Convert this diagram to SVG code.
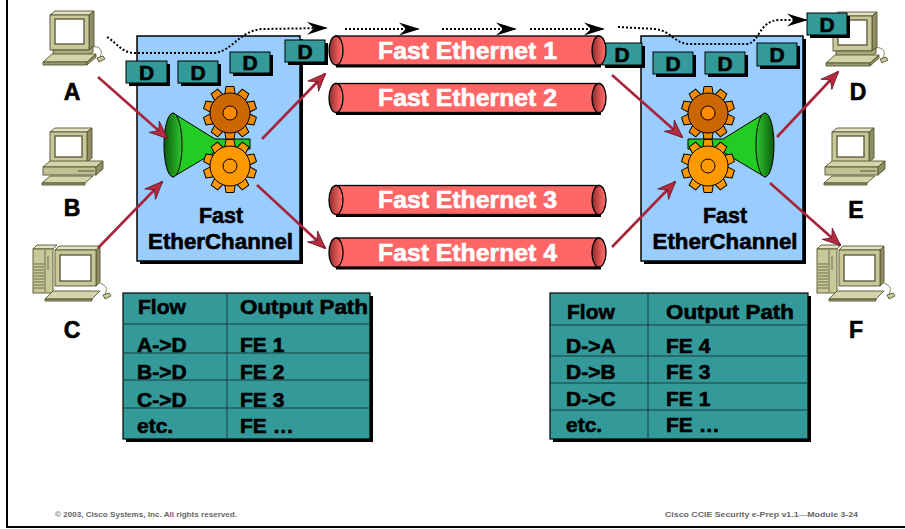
<svg xmlns="http://www.w3.org/2000/svg" xmlns:xlink="http://www.w3.org/1999/xlink" width="905" height="529" viewBox="0 0 905 529">
  <style>
    .lbl { font-family: "Liberation Sans", Arial, sans-serif; font-weight: bold; fill: #000; stroke: #000; stroke-width: 0.6; }
    .host { font-size: 23px; text-anchor: middle; }
    .fe { font-size: 24px; text-anchor: middle; fill: #fff; stroke: #fff; stroke-width: 0.6; }
    .fec { font-size: 21.5px; text-anchor: middle; }
    .dtxt { font-size: 21px; text-anchor: middle; }
    .tbl { font-size: 21px; }
    .foot { font-family: "Liberation Sans", Arial, sans-serif; font-weight: bold; font-size: 8px; fill: #666; }
    .box { fill: #99CCFF; stroke: #000; stroke-width: 1.5; }
    .shadow { fill: #000; stroke: none; }
    .frame { fill: #339999; stroke: #000; stroke-width: 1.2; }
    .pkt { fill: #339999; stroke: #000; stroke-width: 1; }
    .tube { fill: #FF6666; stroke: #000; stroke-width: 1.3; }
    .cap { fill: url(#capGrad); stroke: #000; stroke-width: 1.3; }
    .rowline { stroke: #1a3d3d; stroke-width: 1; }
    .red { fill: none; stroke: #A8243A; stroke-width: 2.6; marker-end: url(#redHead); }
    .dots { fill: none; stroke: #000; stroke-width: 2; stroke-dasharray: 2 2; marker-end: url(#dotHead); }
    .pcline { stroke: #555533; stroke-width: 0.9; }
  </style>
  <defs>
    <linearGradient id="capGrad" x1="0" y1="0" x2="1" y2="0">
      <stop offset="0" stop-color="#8E2A2A"/>
      <stop offset="0.6" stop-color="#E05555"/>
      <stop offset="1" stop-color="#FF7070"/>
    </linearGradient>
    <linearGradient id="mouthGrad" x1="0" y1="0" x2="1" y2="0">
      <stop offset="0" stop-color="#0B5A0B"/>
      <stop offset="1" stop-color="#30C830"/>
    </linearGradient>
    <marker id="redHead" markerUnits="userSpaceOnUse" markerWidth="22" markerHeight="18" viewBox="-19 -9 22 18" refX="0" refY="0" orient="auto">
      <path d="M1,0 L-17,-7.5 L-11,0 L-17,7.5 Z" fill="#B52B40" stroke="#5A0F1A" stroke-width="0.7"/>
    </marker>
    <marker id="dotHead" markerUnits="userSpaceOnUse" markerWidth="24" markerHeight="16" viewBox="-21 -8 24 16" refX="0" refY="0" orient="auto">
      <path d="M2,0 L-19,-6.5 L-12,0 L-19,6.5 Z" fill="#000"/>
    </marker>
    <path id="tooth" d="M-4,-26.5 L4,-26.5 L5.5,-17 L-5.5,-17 Z" stroke="#000" stroke-width="1"/>
    <g id="gearDark">
      <g fill="#F08A00">
        <use href="#tooth"/><use href="#tooth" transform="rotate(36)"/><use href="#tooth" transform="rotate(72)"/>
        <use href="#tooth" transform="rotate(108)"/><use href="#tooth" transform="rotate(144)"/><use href="#tooth" transform="rotate(180)"/>
        <use href="#tooth" transform="rotate(216)"/><use href="#tooth" transform="rotate(252)"/><use href="#tooth" transform="rotate(288)"/>
        <use href="#tooth" transform="rotate(324)"/>
      </g>
      <circle r="20" fill="#CC6600" stroke="#000" stroke-width="1"/>
      <circle r="7" fill="#FF8C00" stroke="#000" stroke-width="1"/>
    </g>
    <g id="gearLight">
      <g fill="#FF9900">
        <use href="#tooth"/><use href="#tooth" transform="rotate(36)"/><use href="#tooth" transform="rotate(72)"/>
        <use href="#tooth" transform="rotate(108)"/><use href="#tooth" transform="rotate(144)"/><use href="#tooth" transform="rotate(180)"/>
        <use href="#tooth" transform="rotate(216)"/><use href="#tooth" transform="rotate(252)"/><use href="#tooth" transform="rotate(288)"/>
        <use href="#tooth" transform="rotate(324)"/>
      </g>
      <circle r="20" fill="#FF9900" stroke="#000" stroke-width="1"/>
      <circle r="7" fill="#FF9900" stroke="#000" stroke-width="1"/>
    </g>
    <!-- funnel with two gears, drawn for the left switch -->
    <g id="engine">
      <use href="#gearDark" transform="translate(230,113)"/>
      <polygon points="173,113 215,139 250,139 250,149 215,152 173,177" fill="#22CC22" stroke="#000" stroke-width="1"/>
      <ellipse cx="173" cy="145" rx="9" ry="32" fill="url(#mouthGrad)" stroke="#000" stroke-width="1"/>
      <use href="#gearLight" transform="translate(230,166)"/>
    </g>
    <!-- monitor with keyboard and mouse -->
    <g id="pcMon">
      <path d="M90,47 C101,45 103,51 100,57" fill="none" stroke="#888866" stroke-width="1"/>
      <polygon class="pcline" points="50,15 55,11 94,11 89,15" fill="#E2E2C4"/>
      <polygon class="pcline" points="89,15 94,11 94,46 89,50" fill="#8E8E62"/>
      <rect class="pcline" x="50" y="15" width="39" height="35" fill="#C8C89A"/>
      <rect x="55" y="19" width="29" height="25" fill="#fff" stroke="#555533" stroke-width="1.3"/>
      <polygon class="pcline" points="53,50 89,50 93,47 93,52 89,55 53,55" fill="#A8A87C"/>
      <polygon class="pcline" points="43,62 87,62 96,54 52,54" fill="#D4D4AA"/>
      <polygon class="pcline" points="43,62 87,62 87,65 43,65" fill="#9A9A70"/>
      <polygon class="pcline" points="87,62 96,54 96,57 87,65" fill="#8E8E62"/>
      <path class="pcline" d="M97,58 L103,56 L105,59 L99,62 Z" fill="#C8C89A"/>
    </g>
    <!-- monitor standing on a desktop case -->
    <g id="pcDesk">
      <polygon class="pcline" points="50,132 55,128 92,128 87,132" fill="#E2E2C4"/>
      <polygon class="pcline" points="87,132 92,128 92,158 87,162" fill="#8E8E62"/>
      <rect class="pcline" x="50" y="132" width="37" height="30" fill="#C8C89A"/>
      <rect x="55" y="136" width="27" height="21" fill="#fff" stroke="#555533" stroke-width="1.3"/>
      <polygon class="pcline" points="43,167 96,167 103,161 50,161" fill="#D4D4AA"/>
      <rect class="pcline" x="43" y="167" width="53" height="8" fill="#C0C094"/>
      <polygon class="pcline" points="96,167 103,161 103,169 96,175" fill="#8E8E62"/>
      <line x1="78" y1="171" x2="94" y2="171" stroke="#555533" stroke-width="1"/>
      <polygon class="pcline" points="42,183 85,183 93,176 50,176" fill="#D4D4AA"/>
      <polygon class="pcline" points="42,183 85,183 85,185 42,185" fill="#9A9A70"/>
    </g>
    <!-- tower with monitor, keyboard and mouse -->
    <g id="pcTower">
      <path d="M96,283 C106,283 108,289 105,294" fill="none" stroke="#888866" stroke-width="1"/>
      <polygon class="pcline" points="33,249 37,245 57,245 53,249" fill="#E2E2C4"/>
      <rect class="pcline" x="33" y="249" width="20" height="44" fill="#C8C89A"/>
      <line x1="45" y1="250" x2="45" y2="292" stroke="#555533" stroke-width="0.8"/>
      <line x1="48" y1="256" x2="48" y2="270" stroke="#555533" stroke-width="0.8"/>
      <path d="M34,264 H44 M34,267 H44 M34,270 H44 M34,273 H44 M34,276 H44 M34,279 H44 M34,282 H44 M34,285 H44 M34,288 H44" stroke="#6E6E4A" stroke-width="1"/>
      <polygon class="pcline" points="55,250 59,246 100,246 96,250" fill="#E2E2C4"/>
      <polygon class="pcline" points="96,250 100,246 100,282 96,286" fill="#8E8E62"/>
      <rect class="pcline" x="55" y="250" width="41" height="36" fill="#C8C89A"/>
      <rect x="60" y="255" width="31" height="26" fill="#fff" stroke="#555533" stroke-width="1.3"/>
      <polygon class="pcline" points="45,299 92,299 100,291 53,291" fill="#D4D4AA"/>
      <polygon class="pcline" points="45,299 92,299 92,301 45,301" fill="#9A9A70"/>
      <path class="pcline" d="M103,295 L109,293 L111,296 L105,299 Z" fill="#C8C89A"/>
    </g>
  </defs>

  <!-- page frame -->
  <line x1="7" y1="0" x2="7" y2="528" stroke="#000" stroke-width="2"/>
  <line x1="6" y1="527" x2="905" y2="527" stroke="#000" stroke-width="2"/>

  <!-- hosts -->
  <g id="host-a"><use href="#pcMon"/><text class="lbl host" x="72" y="100">A</text></g>
  <g id="host-b"><use href="#pcDesk"/><text class="lbl host" x="72" y="216">B</text></g>
  <g id="host-c"><use href="#pcTower"/><text class="lbl host" x="72" y="338">C</text></g>
  <g id="host-d"><use href="#pcMon" transform="translate(783,1)"/><text class="lbl host" x="858" y="100">D</text></g>
  <g id="host-e"><use href="#pcDesk" transform="translate(782,0)"/><text class="lbl host" x="856" y="218">E</text></g>
  <g id="host-f"><use href="#pcTower" transform="translate(784,0)"/><text class="lbl host" x="856" y="338">F</text></g>

  <!-- left Fast EtherChannel switch -->
  <g id="fec-left">
    <rect class="shadow" x="140" y="39" width="163" height="225"/>
    <rect class="box" x="137" y="36" width="163" height="225"/>
    <use href="#engine"/>
    <text class="lbl fec" x="221" y="223">Fast</text>
    <text class="lbl fec" x="220.5" y="249" textLength="145" lengthAdjust="spacingAndGlyphs">EtherChannel</text>
  </g>

  <!-- right Fast EtherChannel switch -->
  <g id="fec-right">
    <rect class="shadow" x="644" y="39" width="162" height="225"/>
    <rect class="box" x="641" y="36" width="162" height="225"/>
    <use href="#engine" transform="matrix(-1,0,0,1,938,0)"/>
    <text class="lbl fec" x="725" y="223">Fast</text>
    <text class="lbl fec" x="725" y="249" textLength="145" lengthAdjust="spacingAndGlyphs">EtherChannel</text>
  </g>

  <!-- frames travelling from A to D -->
  <g id="frames">
    <g id="frame-l1"><rect class="shadow" x="129" y="64" width="41" height="22"/><rect class="pkt" x="126" y="61" width="41" height="22"/><text class="lbl dtxt" x="146.5" y="80">D</text></g>
    <g id="frame-l2"><rect class="shadow" x="181" y="64" width="40" height="22"/><rect class="pkt" x="178" y="61" width="40" height="22"/><text class="lbl dtxt" x="198" y="80">D</text></g>
    <g id="frame-l3"><rect class="shadow" x="233" y="55" width="40" height="21"/><rect class="pkt" x="230" y="52" width="40" height="21"/><text class="lbl dtxt" x="250" y="70">D</text></g>
    <g id="frame-l4"><rect class="shadow" x="288" y="43" width="40" height="22"/><rect class="pkt" x="285" y="40" width="40" height="22"/><text class="lbl dtxt" x="305" y="59">D</text></g>
    <g id="frame-r1"><rect class="shadow" x="605" y="46" width="40" height="22"/><rect class="pkt" x="602" y="43" width="40" height="22"/><text class="lbl dtxt" x="622" y="62">D</text></g>
    <g id="frame-r2"><rect class="shadow" x="656" y="55" width="40" height="22"/><rect class="pkt" x="653" y="52" width="40" height="22"/><text class="lbl dtxt" x="673" y="71">D</text></g>
    <g id="frame-r3"><rect class="shadow" x="708" y="55" width="40" height="22"/><rect class="pkt" x="705" y="52" width="40" height="22"/><text class="lbl dtxt" x="725" y="71">D</text></g>
    <g id="frame-r4"><rect class="shadow" x="760" y="46" width="40" height="23"/><rect class="pkt" x="757" y="43" width="40" height="23"/><text class="lbl dtxt" x="777" y="62">D</text></g>
    <g id="frame-top"><rect class="shadow" x="810" y="16" width="40" height="22"/><rect class="pkt" x="807" y="13" width="40" height="22"/><text class="lbl dtxt" x="827" y="32">D</text></g>
  </g>

  <!-- Fast Ethernet links -->
  <g id="fe1">
    <rect class="shadow" x="336" y="38.5" width="265" height="29"/>
    <rect class="tube" x="336" y="36" width="263" height="29"/>
    <ellipse class="cap" cx="599" cy="50.5" rx="7" ry="14.5"/>
    <ellipse class="cap" cx="336" cy="50.5" rx="7" ry="14.5"/>
    <text class="lbl fe" x="467.5" y="58.5" textLength="179" lengthAdjust="spacingAndGlyphs">Fast Ethernet 1</text>
  </g>
  <g id="fe2">
    <rect class="shadow" x="336" y="86" width="265" height="29"/>
    <rect class="tube" x="336" y="83.5" width="263" height="29"/>
    <ellipse class="cap" cx="599" cy="98" rx="7" ry="14.5"/>
    <ellipse class="cap" cx="336" cy="98" rx="7" ry="14.5"/>
    <text class="lbl fe" x="467.5" y="106" textLength="179" lengthAdjust="spacingAndGlyphs">Fast Ethernet 2</text>
  </g>
  <g id="fe3">
    <rect class="shadow" x="336" y="188" width="265" height="29"/>
    <rect class="tube" x="336" y="185.5" width="263" height="29"/>
    <ellipse class="cap" cx="599" cy="200" rx="7" ry="14.5"/>
    <ellipse class="cap" cx="336" cy="200" rx="7" ry="14.5"/>
    <text class="lbl fe" x="467.5" y="208" textLength="179" lengthAdjust="spacingAndGlyphs">Fast Ethernet 3</text>
  </g>
  <g id="fe4">
    <rect class="shadow" x="336" y="240.5" width="265" height="29"/>
    <rect class="tube" x="336" y="238" width="263" height="29"/>
    <ellipse class="cap" cx="599" cy="252.5" rx="7" ry="14.5"/>
    <ellipse class="cap" cx="336" cy="252.5" rx="7" ry="14.5"/>
    <text class="lbl fe" x="467.5" y="261" textLength="179" lengthAdjust="spacingAndGlyphs">Fast Ethernet 4</text>
  </g>

  <!-- connectors -->
  <g id="connectors">
    <path class="dots" d="M107,37 C118,44 122,53 135,53 L212,53 C232,53 238,31 262,29 L326,28"/>
    <path class="dots" d="M345,29 L418,29"/>
    <path class="dots" d="M442,29 L515,29"/>
    <path class="dots" d="M530,29 L603,29"/>
    <path class="dots" d="M618,27 L655,29 C672,31 674,44 690,44 L746,44 C760,44 758,20 780,20 L806,20"/>
    <line class="red" x1="98" y1="77" x2="167" y2="138"/>
    <line class="red" x1="98" y1="248" x2="162" y2="182"/>
    <line class="red" x1="262" y1="139" x2="325" y2="74"/>
    <line class="red" x1="257" y1="185" x2="325" y2="248"/>
    <line class="red" x1="612" y1="75" x2="682" y2="137"/>
    <line class="red" x1="612" y1="247" x2="675" y2="182"/>
    <line class="red" x1="777" y1="137" x2="838" y2="72"/>
    <line class="red" x1="770" y1="183" x2="840" y2="245"/>
  </g>

  <!-- hash table for traffic A to D -->
  <g id="table-left">
    <rect class="shadow" x="126" y="296" width="247" height="146"/>
    <rect class="frame" x="123" y="293" width="247" height="146"/>
    <line class="rowline" x1="227" y1="293" x2="227" y2="439"/>
    <line class="rowline" x1="123" y1="324" x2="370" y2="324"/>
    <line class="rowline" x1="123" y1="353" x2="370" y2="353"/>
    <line class="rowline" x1="123" y1="380" x2="370" y2="380"/>
    <line class="rowline" x1="123" y1="408" x2="370" y2="408"/>
    <text class="lbl tbl" x="138" y="314">Flow</text>
    <text class="lbl tbl" x="240" y="314" textLength="128" lengthAdjust="spacingAndGlyphs">Output Path</text>
    <text class="lbl tbl" x="137" y="352">A-&gt;D</text>
    <text class="lbl tbl" x="240" y="352">FE 1</text>
    <text class="lbl tbl" x="137" y="379">B-&gt;D</text>
    <text class="lbl tbl" x="240" y="379">FE 2</text>
    <text class="lbl tbl" x="137" y="407">C-&gt;D</text>
    <text class="lbl tbl" x="240" y="407">FE 3</text>
    <text class="lbl tbl" x="137" y="433">etc.</text>
    <text class="lbl tbl" x="240" y="433">FE …</text>
  </g>

  <!-- hash table for traffic from D -->
  <g id="table-right">
    <rect class="shadow" x="553" y="296" width="258" height="146"/>
    <rect class="frame" x="550" y="293" width="258" height="146"/>
    <line class="rowline" x1="648" y1="293" x2="648" y2="439"/>
    <line class="rowline" x1="550" y1="325" x2="808" y2="325"/>
    <line class="rowline" x1="550" y1="356" x2="808" y2="356"/>
    <line class="rowline" x1="550" y1="383" x2="808" y2="383"/>
    <line class="rowline" x1="550" y1="410" x2="808" y2="410"/>
    <text class="lbl tbl" x="567" y="319">Flow</text>
    <text class="lbl tbl" x="666" y="319" textLength="128" lengthAdjust="spacingAndGlyphs">Output Path</text>
    <text class="lbl tbl" x="566" y="353">D-&gt;A</text>
    <text class="lbl tbl" x="666" y="353">FE 4</text>
    <text class="lbl tbl" x="566" y="379">D-&gt;B</text>
    <text class="lbl tbl" x="666" y="379">FE 3</text>
    <text class="lbl tbl" x="566" y="406">D-&gt;C</text>
    <text class="lbl tbl" x="666" y="406">FE 1</text>
    <text class="lbl tbl" x="566" y="432">etc.</text>
    <text class="lbl tbl" x="666" y="432">FE …</text>
  </g>

  <!-- footer -->
  <text class="foot" x="55" y="517" textLength="182" lengthAdjust="spacingAndGlyphs">© 2003, Cisco Systems, Inc. All rights reserved.</text>
  <text class="foot" x="665" y="517" textLength="193" lengthAdjust="spacingAndGlyphs">Cisco CCIE Security e-Prep v1.1—Module 3-24</text>
</svg>
